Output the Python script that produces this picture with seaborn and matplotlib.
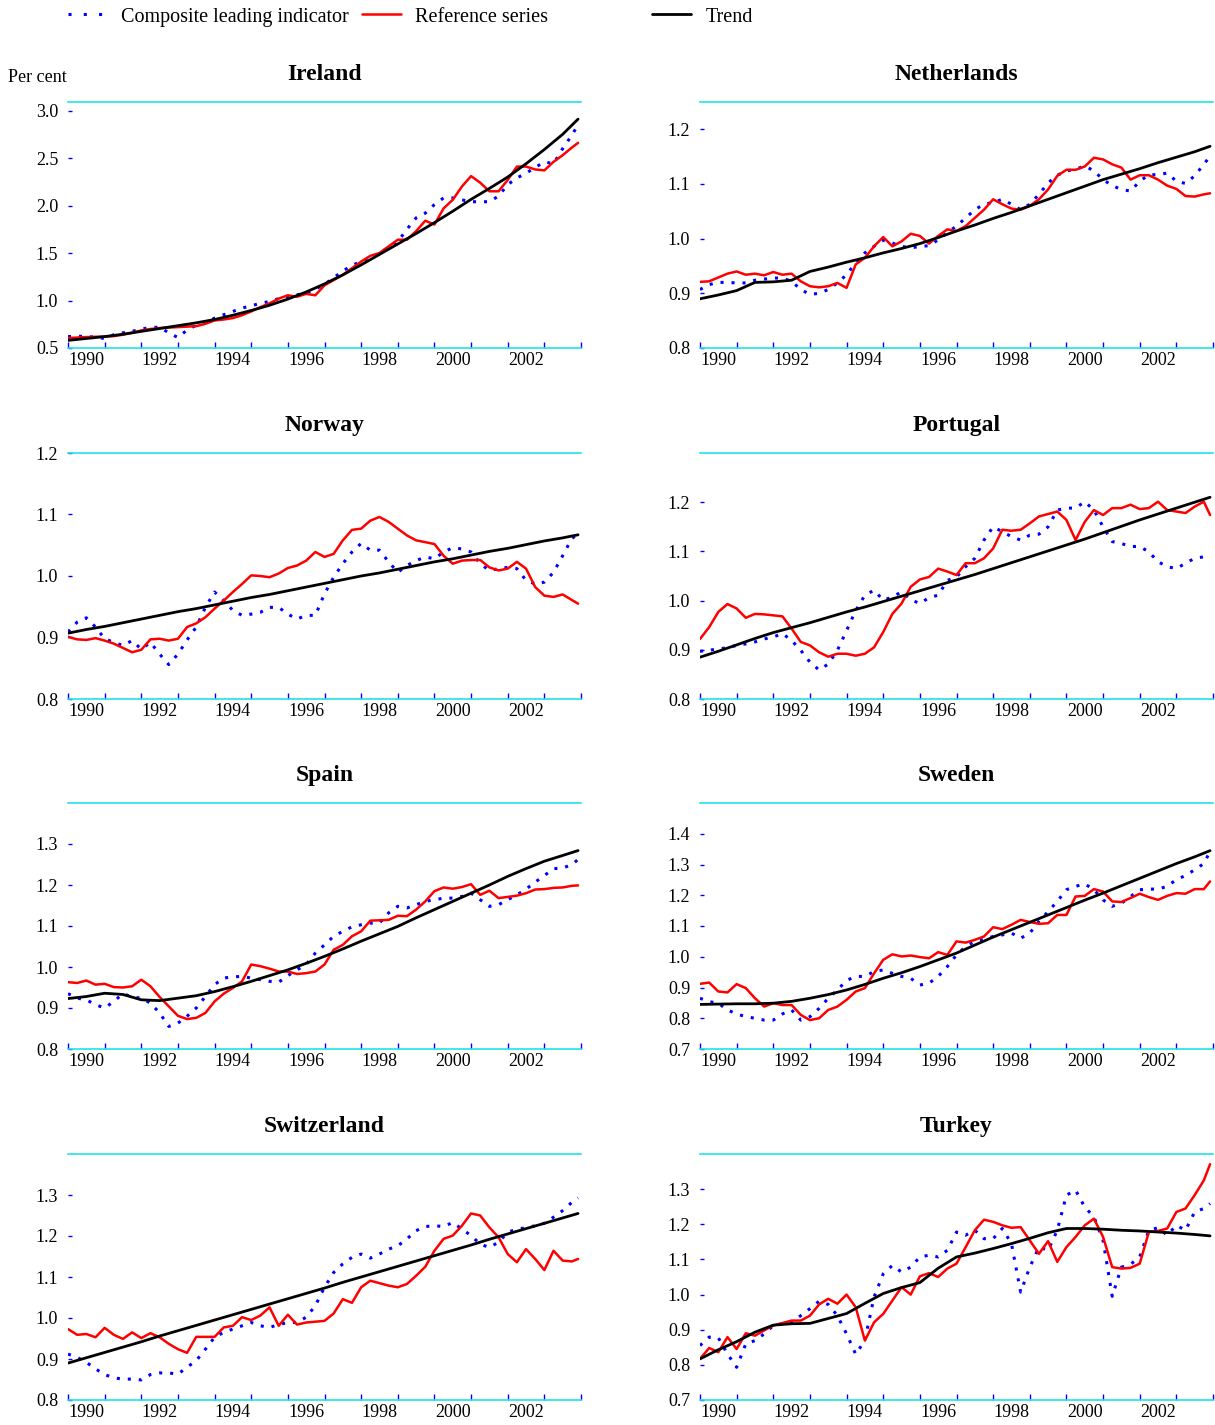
import numpy as np
import matplotlib
matplotlib.use("Agg")
import matplotlib.pyplot as plt
from matplotlib.lines import Line2D
from matplotlib.ticker import FixedLocator, FixedFormatter
import seaborn as sns

# ---------------- data ----------------
quarters = np.append(np.arange(1990, 2004, 0.25), 2003.92)
trend_x = np.append(np.arange(1990, 2004, 0.5), 2003.92)

countries = ["Ireland", "Netherlands", "Norway", "Portugal",
             "Spain", "Sweden", "Switzerland", "Turkey"]

ireland_cli = [0.62, 0.625, 0.62, 0.615, 0.60, 0.64, 0.66, 0.675, 0.70, 0.715, 0.72, 0.66,
               0.61, 0.69, 0.74, 0.76, 0.815, 0.85, 0.885, 0.92, 0.945, 0.97, 0.99, 1.02,
               1.04, 1.06, 1.08, 1.12, 1.17, 1.24, 1.31, 1.37, 1.41, 1.45, 1.50, 1.56,
               1.62, 1.75, 1.87, 1.92, 2.01, 2.08, 2.08, 2.06, 2.04, 2.04, 2.04, 2.10,
               2.22, 2.29, 2.34, 2.40, 2.46, 2.44, 2.60, 2.74, 2.85]
ireland_ref = [0.605, 0.61, 0.615, 0.618, 0.62, 0.625, 0.64, 0.66, 0.685, 0.70, 0.71, 0.715,
               0.72, 0.725, 0.73, 0.755, 0.79, 0.80, 0.815, 0.845, 0.885, 0.93, 0.97, 1.02,
               1.055, 1.04, 1.07, 1.055, 1.16, 1.215, 1.27, 1.34, 1.41, 1.47, 1.50, 1.57,
               1.64, 1.64, 1.73, 1.84, 1.80, 1.97, 2.06, 2.20, 2.31, 2.24, 2.15, 2.15,
               2.27, 2.41, 2.41, 2.38, 2.37, 2.46, 2.53, 2.61, 2.66]
ireland_trend = [0.58, 0.60, 0.62, 0.645, 0.675, 0.705, 0.735, 0.765, 0.80, 0.845, 0.895, 0.95,
                 1.015, 1.09, 1.175, 1.27, 1.375, 1.485, 1.595, 1.705, 1.82, 1.94, 2.065, 2.18,
                 2.30, 2.44, 2.59, 2.75, 2.91]

netherlands_cli = [0.907, 0.916, 0.92, 0.92, 0.919, 0.919, 0.924, 0.926, 0.928, 0.928, 0.922, 0.907,
                   0.898, 0.90, 0.907, 0.919, 0.934, 0.956, 0.974, 0.986, 0.997, 0.992, 0.986, 0.983,
                   0.986, 0.987, 0.998, 1.011, 1.023, 1.038, 1.053, 1.063, 1.066, 1.072, 1.063, 1.053,
                   1.063, 1.081, 1.102, 1.116, 1.124, 1.127, 1.133, 1.124, 1.108, 1.097, 1.09, 1.087,
                   1.105, 1.117, 1.117, 1.12, 1.105, 1.101, 1.115, 1.136, 1.151]
netherlands_ref = [0.921, 0.922, 0.929, 0.936, 0.94, 0.934, 0.936, 0.933, 0.939, 0.934, 0.936, 0.922,
                   0.913, 0.911, 0.913, 0.919, 0.91, 0.953, 0.965, 0.986, 1.003, 0.986, 0.995, 1.009,
                   1.005, 0.991, 1.005, 1.017, 1.014, 1.023, 1.038, 1.053, 1.072, 1.063, 1.055, 1.053,
                   1.06, 1.072, 1.09, 1.115, 1.126, 1.126, 1.132, 1.148, 1.145, 1.136, 1.13, 1.108,
                   1.116, 1.116, 1.108, 1.097, 1.091, 1.078, 1.077, 1.081, 1.083]
netherlands_trend = [0.89, 0.897, 0.905, 0.92, 0.921, 0.924, 0.94, 0.948, 0.957, 0.965, 0.974, 0.982,
                     0.991, 1.002, 1.014, 1.025, 1.037, 1.048, 1.06, 1.072, 1.084, 1.096, 1.108, 1.118,
                     1.128, 1.139, 1.149, 1.159, 1.169]

norway_cli = [0.909, 0.925, 0.932, 0.917, 0.898, 0.892, 0.887, 0.895, 0.881, 0.892, 0.873, 0.856,
              0.873, 0.896, 0.917, 0.949, 0.974, 0.96, 0.944, 0.936, 0.938, 0.941, 0.949, 0.949,
              0.938, 0.93, 0.936, 0.936, 0.971, 0.998, 1.02, 1.039, 1.053, 1.042, 1.042, 1.023,
              1.006, 1.017, 1.025, 1.031, 1.028, 1.039, 1.046, 1.044, 1.039, 1.02, 1.009, 1.012,
              1.014, 1.012, 0.993, 0.987, 0.99, 1.006, 1.033, 1.061, 1.068]
norway_ref = [0.901, 0.897, 0.896, 0.899, 0.895, 0.89, 0.883, 0.876, 0.88, 0.897, 0.898, 0.895,
              0.898, 0.917, 0.923, 0.933, 0.947, 0.96, 0.974, 0.987, 1.001, 1.0, 0.998, 1.004,
              1.013, 1.017, 1.025, 1.039, 1.031, 1.036, 1.058, 1.075, 1.077, 1.09, 1.096, 1.088,
              1.077, 1.066, 1.058, 1.055, 1.052, 1.033, 1.02, 1.025, 1.026, 1.026, 1.014, 1.009,
              1.012, 1.023, 1.012, 0.982, 0.968, 0.966, 0.97, 0.961, 0.955]
norway_trend = [0.907, 0.913, 0.918, 0.924, 0.930, 0.936, 0.942, 0.947, 0.953, 0.959, 0.965, 0.970,
                0.976, 0.982, 0.988, 0.994, 1.000, 1.005, 1.011, 1.017, 1.023, 1.028, 1.034, 1.040,
                1.045, 1.051, 1.057, 1.062, 1.067]

portugal_cli = [0.897, 0.899, 0.902, 0.904, 0.909, 0.912, 0.916, 0.922, 0.926, 0.933, 0.919, 0.899,
                0.875, 0.859, 0.871, 0.899, 0.939, 0.98, 1.011, 1.021, 1.001, 1.007, 1.018, 1.002,
                0.994, 1.006, 1.011, 1.041, 1.048, 1.069, 1.086, 1.123, 1.15, 1.14, 1.13, 1.123,
                1.133, 1.135, 1.15, 1.184, 1.188, 1.188, 1.201, 1.184, 1.15, 1.12, 1.116, 1.11,
                1.11, 1.099, 1.079, 1.069, 1.065, 1.076, 1.086, 1.089, 1.093]
portugal_ref = [0.922, 0.946, 0.977, 0.993, 0.984, 0.965, 0.973, 0.972, 0.97, 0.968, 0.943, 0.916,
                0.909, 0.895, 0.886, 0.892, 0.892, 0.888, 0.892, 0.905, 0.936, 0.973, 0.994, 1.028,
                1.043, 1.048, 1.065, 1.059, 1.052, 1.076, 1.076, 1.086, 1.106, 1.144, 1.142, 1.144,
                1.157, 1.171, 1.176, 1.181, 1.164, 1.123, 1.16, 1.184, 1.174, 1.188, 1.188, 1.195,
                1.186, 1.188, 1.201, 1.184, 1.181, 1.178, 1.191, 1.201, 1.174]
portugal_trend = [0.885, 0.897, 0.91, 0.923, 0.935, 0.945, 0.955, 0.966, 0.977, 0.987, 0.998, 1.009,
                  1.02, 1.031, 1.042, 1.053, 1.065, 1.077, 1.089, 1.101, 1.113, 1.125, 1.138, 1.151,
                  1.164, 1.176, 1.188, 1.2, 1.21]

spain_cli = [0.935, 0.924, 0.92, 0.908, 0.9, 0.916, 0.935, 0.927, 0.924, 0.912, 0.888, 0.855,
             0.863, 0.88, 0.9, 0.928, 0.957, 0.973, 0.976, 0.977, 0.973, 0.969, 0.965, 0.963,
             0.979, 0.993, 1.006, 1.034, 1.054, 1.075, 1.087, 1.098, 1.103, 1.107, 1.107, 1.132,
             1.148, 1.144, 1.152, 1.16, 1.164, 1.168, 1.168, 1.172, 1.18, 1.164, 1.148, 1.152,
             1.164, 1.176, 1.19, 1.207, 1.223, 1.24, 1.241, 1.25, 1.262]
spain_ref = [0.963, 0.961, 0.967, 0.957, 0.959, 0.951, 0.95, 0.953, 0.969, 0.953, 0.927, 0.904,
             0.881, 0.873, 0.876, 0.888, 0.916, 0.935, 0.949, 0.965, 1.006, 1.002, 0.996, 0.989,
             0.989, 0.983, 0.985, 0.989, 1.006, 1.042, 1.054, 1.075, 1.087, 1.113, 1.114, 1.115,
             1.125, 1.124, 1.14, 1.16, 1.185, 1.194, 1.191, 1.195, 1.202, 1.176, 1.186, 1.168,
             1.171, 1.174, 1.18, 1.189, 1.19, 1.193, 1.194, 1.198, 1.199]
spain_trend = [0.923, 0.928, 0.936, 0.933, 0.92, 0.918, 0.924, 0.93, 0.94, 0.952, 0.965, 0.979,
               0.993, 1.009, 1.026, 1.044, 1.063, 1.081, 1.099, 1.12, 1.14, 1.16, 1.18, 1.2,
               1.221, 1.24, 1.258, 1.272, 1.284]

sweden_cli = [0.865, 0.854, 0.849, 0.827, 0.814, 0.805, 0.80, 0.794, 0.794, 0.814, 0.827, 0.794,
              0.805, 0.832, 0.865, 0.892, 0.923, 0.936, 0.936, 0.952, 0.957, 0.946, 0.936, 0.93,
              0.908, 0.914, 0.936, 0.968, 1.006, 1.033, 1.05, 1.057, 1.066, 1.071, 1.077, 1.06,
              1.077, 1.115, 1.147, 1.18, 1.218, 1.229, 1.237, 1.218, 1.185, 1.164, 1.174, 1.196,
              1.218, 1.22, 1.22, 1.229, 1.251, 1.264, 1.283, 1.303, 1.343]
sweden_ref = [0.912, 0.916, 0.887, 0.884, 0.911, 0.898, 0.865, 0.838, 0.849, 0.843, 0.843, 0.811,
              0.794, 0.80, 0.827, 0.838, 0.86, 0.887, 0.898, 0.946, 0.99, 1.008, 1.001, 1.004,
              0.999, 0.995, 1.015, 1.006, 1.05, 1.046, 1.055, 1.066, 1.096, 1.09, 1.104, 1.12,
              1.113, 1.107, 1.109, 1.136, 1.136, 1.196, 1.198, 1.22, 1.212, 1.18, 1.178, 1.191,
              1.205, 1.194, 1.185, 1.198, 1.207, 1.205, 1.22, 1.22, 1.245]
sweden_trend = [0.845, 0.846, 0.847, 0.847, 0.849, 0.855, 0.865, 0.877, 0.892, 0.91, 0.93, 0.948,
                0.968, 0.99, 1.012, 1.038, 1.064, 1.088, 1.112, 1.136, 1.16, 1.184, 1.207, 1.231,
                1.255, 1.279, 1.303, 1.325, 1.345]

switzerland_cli = [0.912, 0.904, 0.892, 0.876, 0.862, 0.854, 0.851, 0.851, 0.849, 0.862, 0.866, 0.866,
                   0.863, 0.88, 0.896, 0.924, 0.953, 0.965, 0.973, 0.981, 0.989, 0.981, 0.977, 0.984,
                   0.989, 0.989, 1.002, 1.03, 1.075, 1.111, 1.132, 1.148, 1.156, 1.146, 1.156, 1.168,
                   1.176, 1.193, 1.213, 1.223, 1.225, 1.223, 1.233, 1.217, 1.201, 1.18, 1.172, 1.185,
                   1.209, 1.217, 1.22, 1.225, 1.231, 1.246, 1.262, 1.282, 1.293]
switzerland_ref = [0.973, 0.959, 0.961, 0.953, 0.976, 0.959, 0.949, 0.965, 0.951, 0.963, 0.953, 0.937,
                   0.924, 0.915, 0.954, 0.954, 0.954, 0.977, 0.981, 1.002, 0.995, 1.006, 1.026, 0.981,
                   1.008, 0.984, 0.989, 0.991, 0.993, 1.011, 1.046, 1.037, 1.075, 1.091, 1.085, 1.079,
                   1.075, 1.083, 1.103, 1.125, 1.164, 1.193, 1.201, 1.225, 1.255, 1.25, 1.221, 1.197,
                   1.156, 1.136, 1.168, 1.144, 1.117, 1.164, 1.14, 1.138, 1.144]
switzerland_trend = [0.89, 0.903, 0.916, 0.929, 0.942, 0.956, 0.969, 0.982, 0.995, 1.008, 1.021, 1.034,
                     1.047, 1.06, 1.073, 1.087, 1.10, 1.113, 1.126, 1.139, 1.152, 1.165, 1.178, 1.192,
                     1.205, 1.218, 1.231, 1.244, 1.255]

turkey_cli = [0.855, 0.879, 0.877, 0.831, 0.793, 0.86, 0.869, 0.888, 0.912, 0.917, 0.921, 0.94,
              0.96, 0.981, 0.972, 0.94, 0.888, 0.83, 0.87, 0.993, 1.059, 1.083, 1.064, 1.078,
              1.107, 1.112, 1.107, 1.126, 1.178, 1.169, 1.183, 1.159, 1.159, 1.188, 1.145, 1.007,
              1.078, 1.135, 1.126, 1.183, 1.283, 1.297, 1.249, 1.221, 1.154, 0.995, 1.078, 1.086,
              1.107, 1.183, 1.19, 1.169, 1.197, 1.183, 1.235, 1.245, 1.259]
turkey_ref = [0.817, 0.848, 0.836, 0.879, 0.845, 0.89, 0.883, 0.898, 0.912, 0.919, 0.926, 0.926,
              0.94, 0.972, 0.988, 0.974, 1.0, 0.964, 0.869, 0.921, 0.945, 0.983, 1.021, 1.0,
              1.052, 1.061, 1.05, 1.074, 1.088, 1.135, 1.183, 1.213, 1.207, 1.197, 1.19, 1.192,
              1.154, 1.116, 1.152, 1.093, 1.135, 1.164, 1.197, 1.216, 1.164, 1.078, 1.074, 1.076,
              1.088, 1.178, 1.181, 1.188, 1.235, 1.245, 1.283, 1.325, 1.371]
turkey_trend = [0.817, 0.843, 0.866, 0.893, 0.913, 0.917, 0.918, 0.932, 0.946, 0.975, 1.003, 1.02,
                1.034, 1.075, 1.107, 1.118, 1.131, 1.145, 1.16, 1.176, 1.188, 1.188, 1.186, 1.183,
                1.181, 1.178, 1.175, 1.171, 1.167]

cli_series = [ireland_cli, netherlands_cli, norway_cli, portugal_cli,
              spain_cli, sweden_cli, switzerland_cli, turkey_cli]
ref_series = [ireland_ref, netherlands_ref, norway_ref, portugal_ref,
              spain_ref, sweden_ref, switzerland_ref, turkey_ref]
trend_series = [ireland_trend, netherlands_trend, norway_trend, portugal_trend,
                spain_trend, sweden_trend, switzerland_trend, turkey_trend]

y_ticks = [[0.5, 1.0, 1.5, 2.0, 2.5, 3.0],
           [0.8, 0.9, 1.0, 1.1, 1.2],
           [0.8, 0.9, 1.0, 1.1, 1.2],
           [0.8, 0.9, 1.0, 1.1, 1.2],
           [0.8, 0.9, 1.0, 1.1, 1.2, 1.3],
           [0.7, 0.8, 0.9, 1.0, 1.1, 1.2, 1.3, 1.4],
           [0.8, 0.9, 1.0, 1.1, 1.2, 1.3],
           [0.7, 0.8, 0.9, 1.0, 1.1, 1.2, 1.3]]
y_limits = [(0.5, 3.09), (0.8, 1.25), (0.8, 1.2), (0.8, 1.3),
            (0.8, 1.4), (0.7, 1.5), (0.8, 1.4), (0.7, 1.4)]

year_ticks = list(range(1990, 2005))
year_labels = ["1990", "1992", "1994", "1996", "1998", "2000", "2002"]

legend_labels = ["Composite leading indicator", "Reference series", "Trend"]

# ---------------- style ----------------
sns.set_style("white")
plt.rcParams["font.family"] = ["Liberation Serif", "DejaVu Serif"]
plt.rcParams["text.color"] = "black"
plt.rcParams["axes.titlecolor"] = "black"
plt.rcParams["xtick.labelcolor"] = "black"
plt.rcParams["ytick.labelcolor"] = "black"

W, H = 1215, 1425
fig = plt.figure(figsize=(W / 100, H / 100), dpi=100)

col_x = [68, 700]
row_top = [102, 453, 803, 1154]
ax_w, ax_h = 513, 246

CYAN = "#20E3EA"
BLUE = "#0000FF"
RED = "#FF0000"

axes = []
for i, name in enumerate(countries):
    r, c = divmod(i, 2)
    left = col_x[c] / W
    bottom = 1 - (row_top[r] + ax_h) / H
    ax = fig.add_axes([left, bottom, ax_w / W, ax_h / H])
    axes.append(ax)

    sns.lineplot(x=quarters, y=cli_series[i], ax=ax, color=BLUE, linewidth=2.2,
                 linestyle=(0, (1, 2.6)), estimator=None, sort=False)
    sns.lineplot(x=quarters, y=ref_series[i], ax=ax, color=RED, linewidth=1.8,
                 estimator=None, sort=False)
    sns.lineplot(x=trend_x, y=trend_series[i], ax=ax, color="black", linewidth=2.0,
                 estimator=None, sort=False)

    ax.set_xlim(1990, 2004)
    ax.set_ylim(*y_limits[i])
    ax.set_xlabel("")
    ax.set_ylabel("")
    ax.set_facecolor("white")

    for side in ("left", "right"):
        ax.spines[side].set_visible(False)
    for side in ("top", "bottom"):
        ax.spines[side].set_visible(True)
        ax.spines[side].set_color(CYAN)
        ax.spines[side].set_linewidth(1.2)

    ax.xaxis.set_major_locator(FixedLocator(year_ticks))
    ax.xaxis.set_major_formatter(FixedFormatter([""] * len(year_ticks)))
    ax.xaxis.set_minor_locator(FixedLocator([int(y) + 0.5 for y in year_labels]))
    ax.xaxis.set_minor_formatter(FixedFormatter(year_labels))
    ax.tick_params(axis="x", which="major", direction="in", length=4, width=1.0,
                   color=BLUE, bottom=True, top=False, labelbottom=False)
    ax.tick_params(axis="x", which="minor", length=0, labelsize=13, pad=3,
                   bottom=True, labelbottom=True, labelcolor="black")

    ax.set_yticks(y_ticks[i])
    ax.set_yticklabels([f"{v:.1f}" for v in y_ticks[i]])
    ax.tick_params(axis="y", which="major", direction="in", length=3, width=1.0,
                   color=BLUE, left=True, right=False, labelsize=13, pad=7,
                   labelcolor="black")
    ax.grid(False)

    ax.set_title(name, fontsize=17, fontweight="bold", pad=16, color="black")

# ---------------- legend & labels ----------------
handles = [Line2D([], [], color=BLUE, linewidth=2.2, linestyle=(0, (1, 4))),
           Line2D([], [], color=RED, linewidth=1.8),
           Line2D([], [], color="black", linewidth=2.0)]
legend_x = [68, 362, 652]
for h, lab, lx in zip(handles, legend_labels, legend_x):
    leg = fig.legend([h], [lab], loc="center left", bbox_to_anchor=(lx / W, 1 - 17 / H),
                     frameon=False, fontsize=14.5, handlelength=1.95, handletextpad=0.7,
                     borderpad=0, borderaxespad=0)
    for t in leg.get_texts():
        t.set_color("black")

fig.text(8 / W, 1 - 77 / H, "Per cent", ha="left", va="center", fontsize=13, color="black")

fig.savefig("out.png", dpi=100, facecolor="white")
